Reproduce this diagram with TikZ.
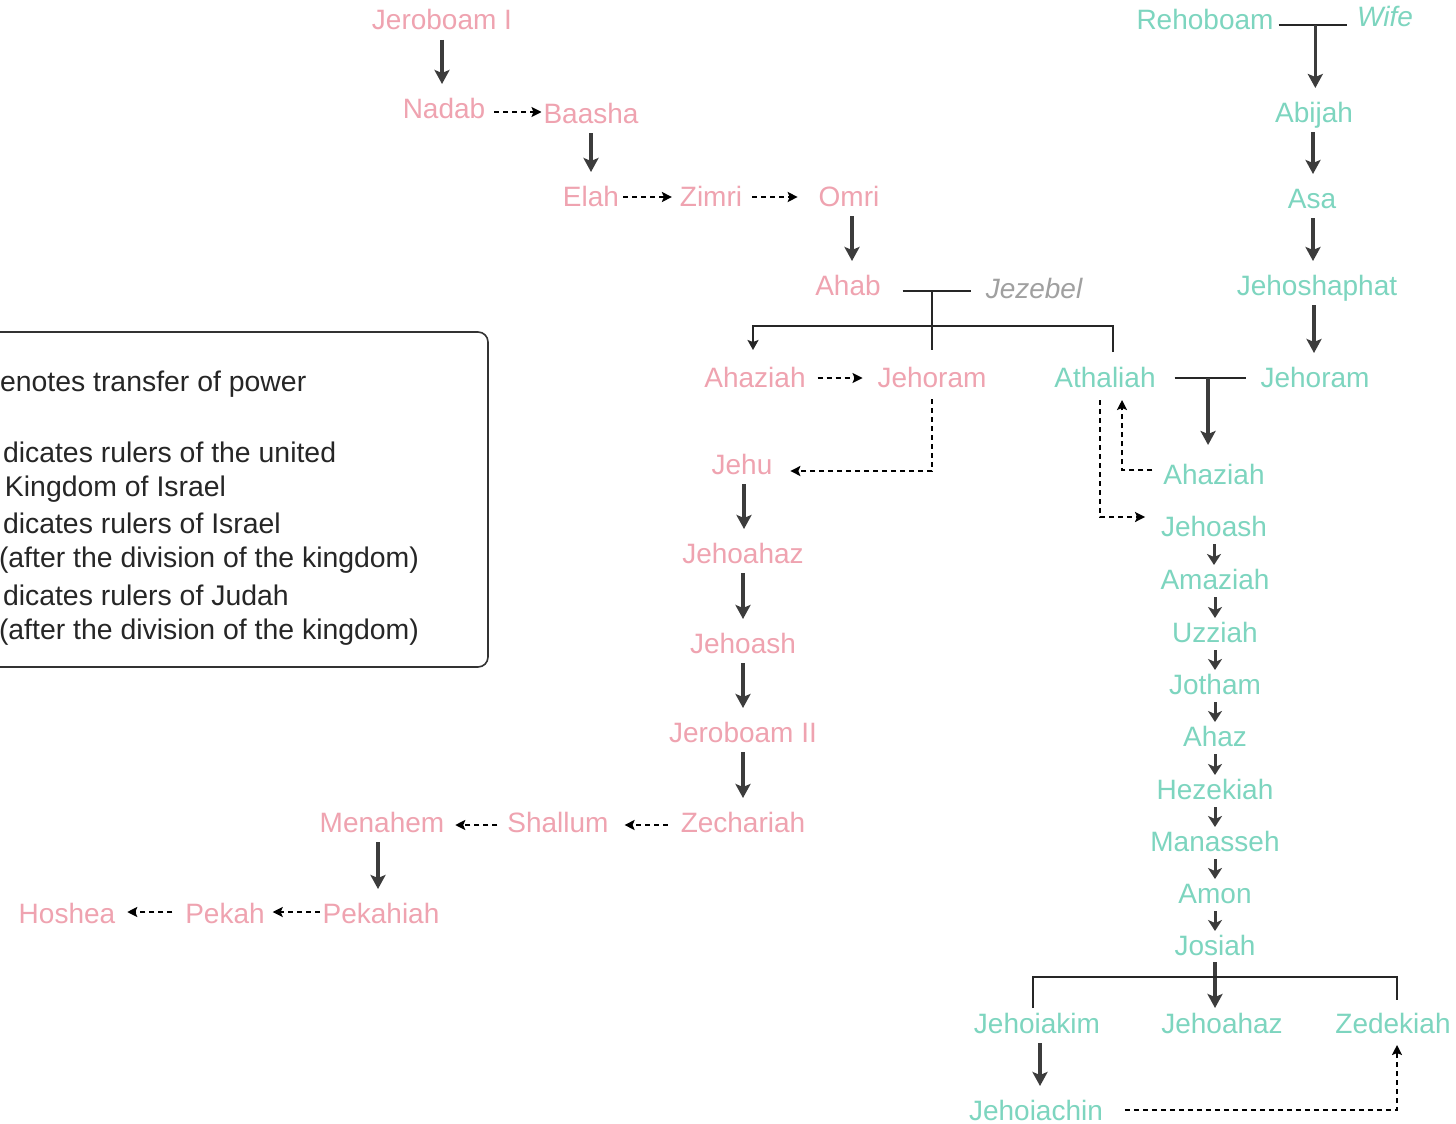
\documentclass[tikz,border=0pt]{standalone}
\usepackage{fontspec}
\setmainfont{Liberation Sans}
\usetikzlibrary{arrows.meta,calc}
\definecolor{isr}{HTML}{EFA3B0}
\definecolor{jud}{HTML}{7DD5BF}
\definecolor{spouse}{HTML}{A0A0A0}
\definecolor{ink}{HTML}{3C3C3C}
\begin{document}
\begin{tikzpicture}[x=1pt,y=-1pt,
  kname/.style={inner sep=0pt, outer sep=0pt, text height=20pt, text depth=0pt, font=\fontsize{28}{32}\selectfont},
  isrk/.style={kname, text=isr},
  judk/.style={kname, text=jud},
  spk/.style={kname, font=\fontsize{28}{32}\selectfont\itshape},
  legtext/.style={anchor=base west, inner sep=0pt, outer sep=0pt, text=black!85, font=\fontsize{28.4}{32}\selectfont},
  sarr/.style={draw=ink, line width=3.4pt, -{Stealth[length=14pt,width=15pt,inset=3pt]}, shorten <=10pt, shorten >=14pt},
  smallarr/.style={draw=ink, line width=3pt, -{Stealth[length=11pt,width=14pt,inset=3pt]}, shorten <=8pt, shorten >=4pt},
  darr/.style={draw=black, line width=2.6pt, dash pattern=on 5pt off 4pt, -{Stealth[length=10pt,width=10pt,inset=2pt]}},
  tline/.style={draw=black!85, line width=2.4pt},
]
\useasboundingbox (0,0) rectangle (1456,1124);
\fill[white] (0,0) rectangle (1456,1124);

% legend (cut off at the left edge)
\begin{scope}
  \clip (0,0) rectangle (1456,1124);
  \draw[rounded corners=10pt, line width=1.6pt, draw=black!80] (-40,332) rectangle (488,667);
\end{scope}
\node[legtext] (leg1) at (0,391) {enotes transfer of power};
\node[legtext] (leg2) at (3,462) {dicates rulers of the united};
\node[legtext] (leg3) at (5,496) {Kingdom of Israel};
\node[legtext] (leg4) at (3,533) {dicates rulers of Israel};
\node[legtext] (leg5) at (-1,567) {(after the division of the kingdom)};
\node[legtext] (leg6) at (3,605) {dicates rulers of Judah};
\node[legtext] (leg7) at (-1,639) {(after the division of the kingdom)};

% Israel
\node[isrk] (jer1) at (442,20) {Jeroboam I};
\node[isrk] (nadab) at (444,108) {Nadab};
\node[isrk] (baasha) at (591,113) {Baasha};
\node[isrk] (elah) at (591,196) {Elah};
\node[isrk] (zimri) at (711,196) {Zimri};
\node[isrk] (omri) at (849,196) {Omri};
\node[isrk] (ahab) at (848,285) {Ahab};
\node[spk, text=spouse] (jezebel) at (1034,288) {Jezebel};
\node[isrk] (ahaziahI) at (755,377) {Ahaziah};
\node[isrk] (jehoramI) at (932,377) {Jehoram};
\node[isrk] (jehu) at (742,464) {Jehu};
\node[isrk] (jehoahazI) at (743,553) {Jehoahaz};
\node[isrk] (jehoashI) at (743,643) {Jehoash};
\node[isrk] (jer2) at (743,732) {Jeroboam II};
\node[isrk] (zech) at (743,822) {Zechariah};
\node[isrk] (shallum) at (558,822) {Shallum};
\node[isrk] (menahem) at (382,822) {Menahem};
\node[isrk] (pekahiah) at (381,913) {Pekahiah};
\node[isrk] (pekah) at (225,913) {Pekah};
\node[isrk] (hoshea) at (67,913) {Hoshea};

% Judah
\node[judk] (reh) at (1205,20) {Rehoboam};
\node[spk, text=jud] (wife) at (1385,17) {Wife};
\node[judk] (abijah) at (1314,112) {Abijah};
\node[judk] (asa) at (1312,198) {Asa};
\node[judk] (jehoshaphat) at (1317,285) {Jehoshaphat};
\node[judk] (jehoramJ) at (1315,377) {Jehoram};
\node[judk] (athaliah) at (1105,377) {Athaliah};
\node[judk] (ahaziahJ) at (1214,474) {Ahaziah};
\node[judk] (jehoashJ) at (1214,526) {Jehoash};
\node[judk] (amaziah) at (1215,579) {Amaziah};
\node[judk] (uzziah) at (1215,632) {Uzziah};
\node[judk] (jotham) at (1215,684) {Jotham};
\node[judk] (ahaz) at (1215,736) {Ahaz};
\node[judk] (hezekiah) at (1215,789) {Hezekiah};
\node[judk] (manasseh) at (1215,841) {Manasseh};
\node[judk] (amon) at (1215,893) {Amon};
\node[judk] (josiah) at (1215,945) {Josiah};
\node[judk] (jehoiakim) at (1037,1023) {Jehoiakim};
\node[judk] (jehoahazJ) at (1222,1023) {Jehoahaz};
\node[judk] (zedekiah) at (1393,1023) {Zedekiah};
\node[judk] (jehoiachin) at (1036,1110) {Jehoiachin};

% Israel solid successions
\draw[sarr] (jer1.south) -- (jer1.south |- nadab.north);
\draw[sarr] (baasha.south) -- (baasha.south |- elah.north);
\draw[sarr] ([xshift=3pt]omri.south) -- ([xshift=3pt]omri.south |- ahab.north);
\draw[sarr] ([xshift=2pt]jehu.south) -- ([xshift=2pt]jehu.south |- jehoahazI.north);
\draw[sarr] (jehoahazI.south) -- (jehoahazI.south |- jehoashI.north);
\draw[sarr] (jehoashI.south) -- (jehoashI.south |- jer2.north);
\draw[sarr] (jer2.south) -- (jer2.south |- zech.north);
\draw[sarr] ([xshift=-4pt]menahem.south) -- ([xshift=-4pt]menahem.south |- pekahiah.north);

% Israel dashed transfers
\draw[darr, shorten <=9pt, shorten >=2pt] ([yshift=-4pt]nadab.east) -- ([yshift=-4pt]nadab.east -| baasha.west);
\draw[darr, shorten <=4pt, shorten >=8pt] ([yshift=-1pt]elah.east) -- ([yshift=-1pt]zimri.west);
\draw[darr, shorten <=10pt, shorten >=21pt] ([yshift=-1pt]zimri.east) -- ([yshift=-1pt]omri.west);
\draw[darr, shorten <=12pt, shorten >=15pt] ([yshift=-1pt]ahaziahI.east) -- ([yshift=-1pt]jehoramI.west);
\draw[darr, shorten <=12pt, shorten >=18pt] (jehoramI.south) |- ([yshift=-7pt]jehu.east);
\draw[darr, shorten <=13pt, shorten >=16pt] ([yshift=-3pt]zech.west) -- ([yshift=-3pt]shallum.east);
\draw[darr, shorten <=10pt, shorten >=11pt] ([yshift=-3pt]shallum.west) -- ([yshift=-3pt]menahem.east);
\draw[darr, shorten <=3pt, shorten >=8pt] ([yshift=1pt]pekahiah.west) -- ([yshift=1pt]pekah.east);
\draw[darr, shorten <=13pt, shorten >=12pt] ([yshift=1pt]pekah.west) -- ([yshift=1pt]hoshea.east);

% Ahab and Jezebel
\draw[tline, shorten <=22pt, shorten >=15pt] ([yshift=-6pt]ahab.east) -- ([yshift=-6pt]ahab.east -| jezebel.west);
\path (jehoramI.north |- ahab.east) ++(0,6) coordinate (aj);
\path (aj) ++(0,35) coordinate (ajbar);
\draw[tline, shorten >=17pt] (aj) -- (jehoramI.north);
\draw[tline, -{Stealth[length=10pt,width=11pt,inset=2pt]}, shorten <=15pt, shorten >=17pt]
  ([xshift=8pt]athaliah.north) |- (ajbar) -| ([xshift=-2pt]ahaziahI.north);

% Rehoboam and wife
\draw[tline, shorten <=5pt, shorten >=10pt] ([yshift=-5pt]reh.east) -- ([yshift=-5pt]reh.east -| wife.west);
\path ($(reh.east)!0.5!(reh.east -| wife.west) + (0,5)$) coordinate (rw);
\draw[sarr, shorten <=0pt] (rw) -- (rw |- abijah.north);

% Judah solid successions
\draw[sarr] ([xshift=-1pt]abijah.south) -- ([xshift=-1pt]abijah.south |- asa.north);
\draw[sarr] ([xshift=1pt]asa.south) -- ([xshift=1pt]asa.south |- jehoshaphat.north);
\draw[sarr] ([xshift=-3pt]jehoshaphat.south) -- ([xshift=-3pt]jehoshaphat.south |- jehoramJ.north);

% Athaliah and Jehoram
\draw[tline, shorten <=19pt, shorten >=15pt] ([yshift=-1pt]athaliah.east) -- ([yshift=-1pt]athaliah.east -| jehoramJ.west);
\path ($(athaliah.east)!0.5!(athaliah.east -| jehoramJ.west) + (0,1)$) coordinate (aj2);
\draw[sarr, shorten <=0pt, shorten >=19pt] (aj2) -- (aj2 |- ahaziahJ.north);
\draw[darr, shorten >=16pt] ([xshift=-5pt,yshift=-13pt]athaliah.south) |- ([yshift=9pt]jehoashJ.west);
\draw[darr, shorten <=11pt, shorten >=13pt] ([yshift=4pt]ahaziahJ.west) -| ([xshift=17pt]athaliah.south);

% Judah short chain
\foreach \a/\b in {jehoashJ/amaziah, amaziah/uzziah, uzziah/jotham, jotham/ahaz, ahaz/hezekiah, hezekiah/manasseh, manasseh/amon, amon/josiah}
  \draw[smallarr] (\a.south) -- (\a.south |- \b.north);

% Josiah's sons
\draw[sarr, shorten <=7pt, shorten >=5pt] (josiah.south) -- (josiah.south |- jehoahazJ.north);
\path (josiah.south) ++(0,22) coordinate (jbar);
\draw[tline, shorten <=5pt, shorten >=13pt] ([xshift=-4pt]jehoiakim.north) |- (jbar) -| ([xshift=4pt]zedekiah.north);
\draw[sarr] ([xshift=3pt]jehoiakim.south) -- ([xshift=3pt]jehoiakim.south |- jehoiachin.north);
\draw[darr, shorten <=22pt, shorten >=12pt] (jehoiachin.east) -| ([xshift=4pt]zedekiah.south);
\end{tikzpicture}
\end{document}
